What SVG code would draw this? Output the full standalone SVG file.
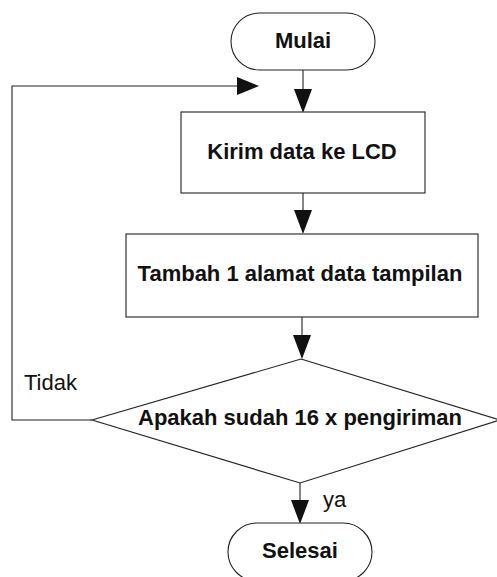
<svg xmlns="http://www.w3.org/2000/svg" width="497" height="577" viewBox="0 0 497 577">
<style>
.shape{fill:#fff;stroke:#222;stroke-width:1.1}
.line{fill:none;stroke:#222;stroke-width:1.1}
.head{fill:#111}
.t{font-family:"Liberation Sans",Arial,sans-serif;font-weight:bold;font-size:22px;fill:#111;text-anchor:middle}
.lbl{font-family:"Liberation Sans",Arial,sans-serif;font-size:22px;fill:#111}
</style>
<rect width="497" height="577" fill="#fff"/>
<g id="connectors">
  <line class="line" x1="303" y1="70" x2="303" y2="90"/>
  <polygon class="head" points="294,89 312,89 303,113"/>
  <line class="line" x1="303" y1="193" x2="303" y2="211"/>
  <polygon class="head" points="294,210 312,210 303,234"/>
  <line class="line" x1="302" y1="317" x2="302" y2="336"/>
  <polygon class="head" points="293,335 311,335 302,359"/>
  <line class="line" x1="300" y1="483" x2="300" y2="501"/>
  <polygon class="head" points="291,500 309,500 300,524"/>
  <polyline class="line" points="92,420 12,420 12,86 238,86"/>
  <polygon class="head" points="237,77 237,95 259,86"/>
  <text class="lbl" x="24" y="390">Tidak</text>
  <text class="lbl" x="323" y="507">ya</text>
</g>
<g id="mulai">
  <rect class="shape" x="231" y="13" width="144" height="57" rx="28.5"/>
  <text class="t" x="303" y="48">Mulai</text>
</g>
<g id="kirim">
  <rect class="shape" x="181" y="112" width="244" height="81"/>
  <text class="t" x="302" y="159">Kirim data ke LCD</text>
</g>
<g id="tambah">
  <rect class="shape" x="126" y="234" width="352" height="83"/>
  <text class="t" x="300" y="281">Tambah 1 alamat data tampilan</text>
</g>
<g id="apakah">
  <polygon class="shape" points="301,359 500,420 300,483 92,420"/>
  <text class="t" x="300" y="425">Apakah sudah 16 x pengiriman</text>
</g>
<g id="selesai">
  <rect class="shape" x="228" y="523" width="144" height="58" rx="29"/>
  <text class="t" x="300" y="558">Selesai</text>
</g>
</svg>
